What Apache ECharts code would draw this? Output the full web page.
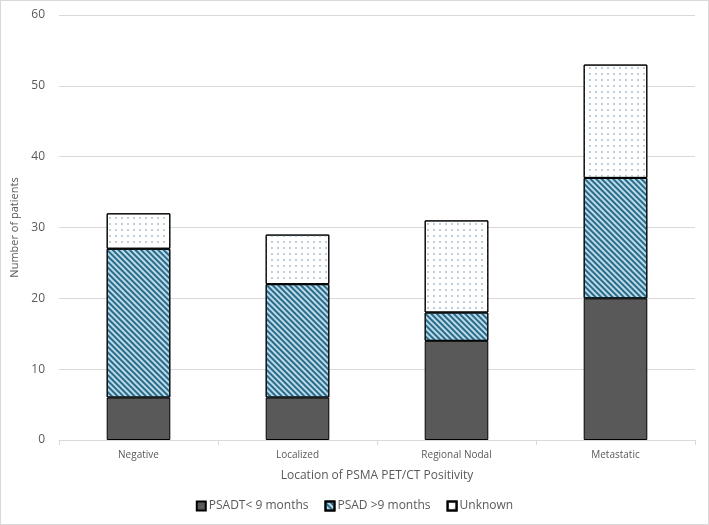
<!DOCTYPE html>
<html><head><meta charset="utf-8">
<script src="https://cdn.jsdelivr.net/npm/echarts@6/dist/echarts.min.js"></script>
<style>html,body{margin:0;padding:0;background:#fff}#c{width:707px;height:523px;border:1px solid #d9d9d9}</style>
</head><body><div id="c"></div>
<script>
const categories = ['Negative', 'Localized', 'Regional Nodal', 'Metastatic'];
const psadtLess9 = [6, 6, 14, 20];
const psadMore9 = [21, 16, 4, 17];
const unknown = [5, 7, 13, 16];
const seriesNames = ['PSADT< 9 months', 'PSAD >9 months', 'Unknown'];

const chart = echarts.init(document.getElementById('c'));
const font = '"Open Sans", "Liberation Sans", sans-serif';
const txt = '#595959';
chart.setOption({
  animation: false,
  textStyle: {fontFamily: font},
  grid: {left: 58, right: 13, top: 14, bottom: 84},
  legend: {
    bottom: 7, left: 'center', itemWidth: 9, itemHeight: 9, itemGap: 16,
    icon: 'rect',
    textStyle: {color: txt, fontSize: 12, fontFamily: font, padding: [0, 0, 0, -2]},
    data: seriesNames
  },
  xAxis: {
    type: 'category', data: categories,
    name: 'Location of PSMA PET/CT Positivity', nameLocation: 'middle', nameGap: 30,
    nameTextStyle: {color: txt, fontSize: 12},
    axisLine: {lineStyle: {color: '#d9d9d9'}},
    axisTick: {show: true, length: 5, lineStyle: {color: '#d9d9d9'}},
    axisLabel: {color: txt, fontSize: 10, margin: 10}
  },
  yAxis: {
    type: 'value', min: 0, max: 60, interval: 10,
    name: 'Number of patients', nameLocation: 'middle', nameGap: 38,
    nameTextStyle: {color: txt, fontSize: 11},
    axisLine: {show: false}, axisTick: {show: false},
    axisLabel: {color: txt, fontSize: 12, margin: 14},
    splitLine: {lineStyle: {color: '#d9d9d9'}}
  },
  series: [
    {name: seriesNames[0], type: 'bar', stack: 't', data: psadtLess9, barWidth: '40%',
     itemStyle: {color: '#595959', borderColor: '#000', borderWidth: 1}},
    {name: seriesNames[1], type: 'bar', stack: 't', data: psadMore9,
     itemStyle: {color: '#bcdbe8', borderColor: '#000', borderWidth: 1,
       decal: {symbol: 'rect', color: '#2a6a8a', dashArrayX: [1, 0], dashArrayY: [1.5, 1.5], rotation: Math.PI / 4}}},
    {name: seriesNames[2], type: 'bar', stack: 't', data: unknown,
     itemStyle: {color: '#ffffff', borderColor: '#000', borderWidth: 1,
       decal: {symbol: 'rect', symbolSize: 0.8, color: '#8fb0c4', dashArrayX: [[2, 4]], dashArrayY: [2, 3.5], rotation: 0}}}
  ]
});
</script></body></html>
